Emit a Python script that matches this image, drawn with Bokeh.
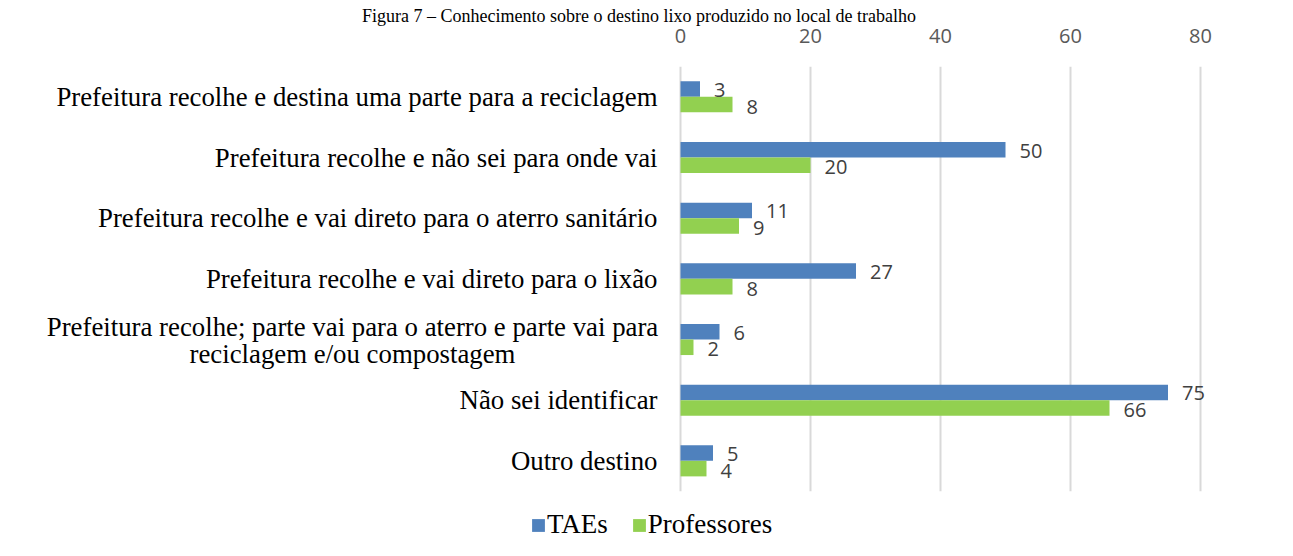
from bokeh.plotting import figure
from bokeh.models import (ColumnDataSource, Range1d, FixedTicker,
                          Legend, LegendItem, CDSView, IndexFilter)
from bokeh.transform import dodge
from bokeh.core.properties import value
from bokeh.embed import file_html
from bokeh.resources import INLINE

# ---------------- data (top to bottom, as in the picture) ----------------
title_text = "Figura 7 – Conhecimento sobre o destino lixo produzido no local de trabalho"
categories = [
    "Prefeitura recolhe e destina uma parte para a reciclagem",
    "Prefeitura recolhe e não sei para onde vai",
    "Prefeitura recolhe e vai direto para o aterro sanitário",
    "Prefeitura recolhe e vai direto para o lixão",
    "Prefeitura recolhe; parte vai para o aterro e parte vai para\nreciclagem e/ou compostagem",
    "Não sei identificar",
    "Outro destino",
]
taes = [3, 50, 11, 27, 6, 75, 5]
professores = [8, 20, 9, 8, 2, 66, 4]
series_names = ["TAEs", "Professores"]
x_ticks = [0, 20, 40, 60, 80]

# ---------------- style ----------------
BLUE = "#4F81BD"
GREEN = "#92D050"
GRID = "#D9D9D9"
SERIF = "Liberation Serif"
SANS = "Open Sans"

n = len(categories)
row_pos = [n - 1 - i for i in range(n)]          # first category on top

src = ColumnDataSource(dict(
    cat=categories,
    pos=row_pos,
    taes=taes,
    prof=professores,
    taes_txt=[str(v) for v in taes],
    prof_txt=[str(v) for v in professores],
))
single_idx = [i for i, c in enumerate(categories) if "\n" not in c]
multi_idx = [i for i, c in enumerate(categories) if "\n" in c]

p = figure(
    width=1277, height=540,
    x_range=Range1d(-680 / 6.5, 597 / 6.5),
    y_range=Range1d(n - 0.5 - 474 / 60.67, n - 0.5),
    x_axis_location="above",
    output_backend="svg", toolbar_location=None,
    min_border_left=0, min_border_right=0,
    min_border_top=66, min_border_bottom=0,
)
p.outline_line_color = None
p.background_fill_color = "white"
p.border_fill_color = "white"

# title (only partly visible in the source picture)
p.title.text = title_text
p.title.text_font = SERIF
p.title.text_font_size = "18px"
p.title.text_font_style = "normal"
p.title.text_color = "black"
p.title.align = "center"
p.title.standoff = 0
p.title.offset = 0

# axis
p.xaxis.ticker = FixedTicker(ticks=x_ticks)
p.xaxis.axis_line_color = None
p.xaxis.major_tick_line_color = None
p.xaxis.minor_tick_line_color = None
p.xaxis.major_label_text_font = SANS
p.xaxis.major_label_text_font_size = "20px"
p.xaxis.major_label_text_color = "#595959"
p.xaxis.major_label_standoff = 18
p.yaxis.visible = False
p.ygrid.visible = False
p.xgrid.visible = False

# vertical gridlines, only over the category rows
p.segment(x0=x_ticks, x1=x_ticks, y0=-0.5, y1=n - 0.5,
          line_color=GRID, line_width=2)

bar_h = 0.256
r_taes = p.hbar(y=dodge("pos", bar_h / 2), left=0, right="taes",
                height=bar_h, fill_color=BLUE, line_color=None, source=src)
r_prof = p.hbar(y=dodge("pos", -bar_h / 2), left=0, right="prof",
                height=bar_h, fill_color=GREEN, line_color=None, source=src)

# value labels
p.text(x="taes", y=dodge("pos", bar_h / 2), text="taes_txt",
       x_offset=14, y_offset=1, text_align="left", text_baseline="middle",
       text_font=value(SANS), text_font_size="20px", text_color="#404040", source=src)
p.text(x="prof", y=dodge("pos", -bar_h / 2), text="prof_txt",
       x_offset=14, y_offset=2, text_align="left", text_baseline="middle",
       text_font=value(SANS), text_font_size="20px", text_color="#404040", source=src)

# category labels
p.text(x=0, y="pos", text="cat", x_offset=-23, text_align="right",
       text_baseline="middle", text_font=value(SERIF), text_font_size="26.8px",
       text_color="black", source=src, view=CDSView(filter=IndexFilter(single_idx)))
p.text(x=0, y="pos", text="cat", x_offset=-328, y_offset=1, text_align="center",
       text_baseline="middle", text_font=value(SERIF), text_font_size="26.8px",
       text_color="black", text_line_height=0.88, source=src,
       view=CDSView(filter=IndexFilter(multi_idx)))

legend = Legend(
    items=[LegendItem(label=series_names[0], renderers=[r_taes]),
           LegendItem(label=series_names[1], renderers=[r_prof])],
    orientation="horizontal", location=(530, 0),
    label_text_font=SERIF, label_text_font_size="27px", label_text_color="black",
    glyph_width=16, glyph_height=16, label_standoff=1, spacing=23,
    border_line_color=None, background_fill_alpha=0,
    margin=0, padding=0,
)
p.add_layout(legend)

open("out.html", "w").write(file_html(p, INLINE))
